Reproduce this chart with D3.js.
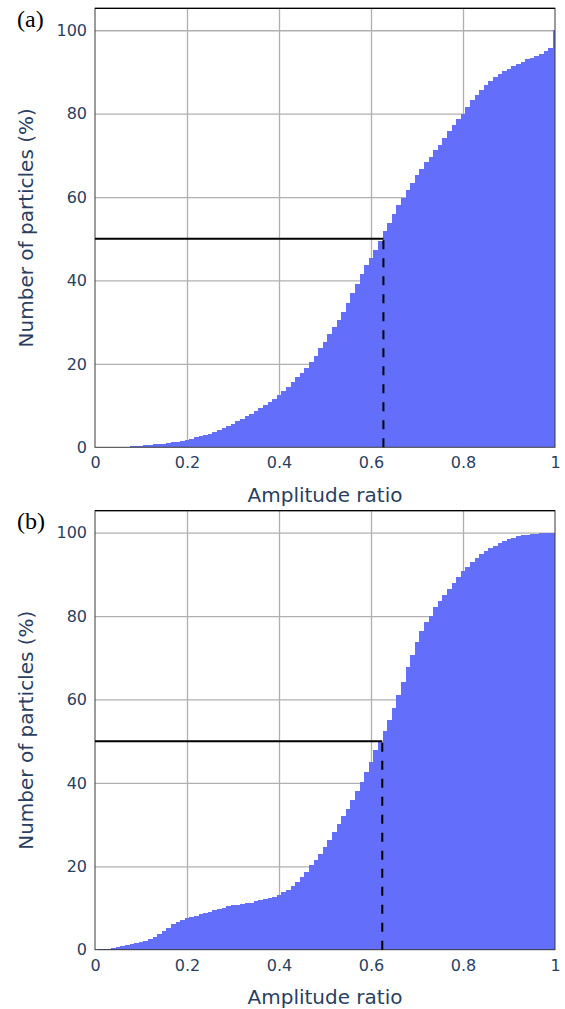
<!DOCTYPE html>
<html>
<head>
<meta charset="utf-8">
<script src="https://cdn.jsdelivr.net/npm/d3@7/dist/d3.min.js"></script>
<style>
  body { margin: 0; background: #fff; }
  svg { display: block; }
</style>
</head>
<body>
<div id="chart"></div>
<script>
// cumulative histograms, bins of width 0.01 centred on 0, 0.01, ... 1
var binWidth = 0.01;
var binCenters = d3.range(101).map(function (k) { return k / 100; });

var cumA = [
    0, 0, 0, 0.02, 0.03, 0.05, 0.08, 0.12, 0.25, 0.3,
    0.35, 0.5, 0.55, 0.75, 0.8, 0.85, 1.0, 1.3, 1.35, 1.5,
    1.75, 2.0, 2.4, 2.6, 2.9, 3.2, 3.7, 4.2, 4.6, 5.0,
    5.6, 6.3, 6.8, 7.4, 8.0, 8.7, 9.4, 10.2, 10.9, 11.7,
    12.6, 13.4, 14.5, 15.7, 16.9, 17.8, 19.0, 20.5, 21.9, 23.7,
    25.3, 27.1, 28.9, 30.6, 32.4, 34.5, 36.9, 39.1, 41.5, 43.6,
    45.4, 47.2, 49.5, 51.9, 53.8, 55.9, 58.0, 59.7, 61.6, 63.4,
    65.3, 66.7, 68.3, 69.6, 71.2, 72.4, 74.2, 75.8, 77.2, 78.7,
    80.0, 81.6, 83.2, 84.4, 85.6, 86.8, 87.8, 88.7, 89.4, 90.2,
    90.8, 91.4, 92.0, 92.4, 93.0, 93.4, 93.8, 94.2, 95.0, 95.8,
    100
];

var cumB = [
    0, 0.05, 0.15, 0.25, 0.35, 0.6, 0.9, 1.1, 1.4, 1.6,
    1.8, 2.1, 2.6, 3.0, 3.8, 4.4, 5.3, 6.1, 6.6, 7.2,
    7.7, 7.8, 8.2, 8.5, 8.8, 9.1, 9.5, 9.7, 10.1, 10.4,
    10.6, 10.8, 11.0, 11.1, 11.3, 11.6, 11.8, 12.1, 12.4, 12.7,
    13.2, 13.8, 14.4, 15.3, 16.3, 17.4, 18.7, 20.2, 21.6, 23.0,
    24.7, 26.4, 28.3, 30.1, 32.1, 33.7, 35.9, 38.1, 40.3, 42.5,
    45.0, 47.9, 49.7, 52.5, 55.0, 57.9, 61.0, 64.2, 67.8, 70.6,
    73.7, 76.4, 78.5, 80.1, 82.1, 83.7, 85.0, 86.5, 87.9, 89.3,
    90.7, 91.8, 92.9, 93.8, 94.9, 95.5, 96.2, 96.8, 97.4, 97.9,
    98.4, 98.8, 99.1, 99.4, 99.4, 99.6, 99.7, 99.8, 99.8, 99.9,
    100
];

// amplitude ratio where half of the particles are reached
var medianA = 0.627;
var medianB = 0.6245;
var halfLevel = 50;

var xTicks = [0, 0.2, 0.4, 0.6, 0.8, 1];
var yTicks = [0, 20, 40, 60, 80, 100];
var panelLabels = ["(a)", "(b)"];
var xTitle = "Amplitude ratio";
var yTitle = "Number of particles (%)";

var panels = [
    { label: panelLabels[0], values: cumA, median: medianA, top: 8.3 },
    { label: panelLabels[1], values: cumB, median: medianB, top: 510.7 }
];

var W = 565, H = 1009;
var left = 95, width = 460, height = 439;
var font = "'DejaVu Sans', Verdana, sans-serif";
var textColor = "#2a3f5f";
var barColor = "#636efa";

var svg = d3.select("#chart")
    .append("svg")
    .attr("width", W)
    .attr("height", H);

var x = d3.scaleLinear().domain([0, 1]).range([0, width]);
var y = d3.scaleLinear().domain([0, 105.26]).range([height, 0]);

panels.forEach(function (p) {
    var g = svg.append("g")
        .attr("transform", "translate(" + left + "," + p.top + ")");

    // grid
    g.append("g")
        .attr("class", "grid")
        .call(d3.axisBottom(x).tickValues(xTicks.slice(1, -1)).tickSize(height).tickFormat(""))
        .call(function (s) { s.select(".domain").remove(); })
        .selectAll("line")
        .attr("stroke", "#b0b0b0")
        .attr("stroke-width", 1.3);
    g.append("g")
        .attr("class", "grid")
        .call(d3.axisLeft(y).tickValues(yTicks.slice(1)).tickSize(-width).tickFormat(""))
        .call(function (s) { s.select(".domain").remove(); })
        .selectAll("line")
        .attr("stroke", "#b0b0b0")
        .attr("stroke-width", 1.3);

    // bars
    g.append("g")
        .attr("shape-rendering", "crispEdges")
        .selectAll("rect")
        .data(binCenters)
        .enter().append("rect")
        .attr("x", function (c) { return x(Math.max(0, c - binWidth / 2)); })
        .attr("width", function (c) {
            return x(Math.min(1, c + binWidth / 2)) - x(Math.max(0, c - binWidth / 2));
        })
        .attr("y", function (c, i) { return y(p.values[i]); })
        .attr("height", function (c, i) { return height - y(p.values[i]); })
        .attr("fill", barColor);

    // frame
    g.append("rect")
        .attr("x", 0).attr("y", 0)
        .attr("width", width).attr("height", height)
        .attr("fill", "none")
        .attr("stroke", "#3a3a3a")
        .attr("stroke-width", 1);
    g.append("line")
        .attr("x1", 0).attr("x2", width)
        .attr("y1", 0).attr("y2", 0)
        .attr("stroke", "#000")
        .attr("stroke-width", 1.2);

    // 50 % line and median marker
    g.append("line")
        .attr("x1", x(0)).attr("x2", x(p.median))
        .attr("y1", y(halfLevel)).attr("y2", y(halfLevel))
        .attr("stroke", "#000")
        .attr("stroke-width", 2);
    g.append("line")
        .attr("x1", x(p.median)).attr("x2", x(p.median))
        .attr("y1", y(0)).attr("y2", y(halfLevel))
        .attr("stroke", "#000")
        .attr("stroke-width", 2)
        .attr("stroke-dasharray", "9,9");

    // axes
    var ax = g.append("g")
        .attr("transform", "translate(0," + height + ")")
        .call(d3.axisBottom(x).tickValues(xTicks).tickSize(0).tickPadding(9.5).tickFormat(function (d) { return String(d); }));
    var ay = g.append("g")
        .call(d3.axisLeft(y).tickValues(yTicks).tickSize(0).tickPadding(8));
    [ax, ay].forEach(function (a) {
        a.select(".domain").remove();
        a.selectAll("text")
            .attr("fill", textColor)
            .style("font-family", font)
            .style("font-size", "16px");
    });

    // axis titles
    g.append("text")
        .attr("x", width / 2)
        .attr("y", height + 54.4)
        .attr("text-anchor", "middle")
        .attr("fill", textColor)
        .style("font-family", font)
        .style("font-size", "20px")
        .text(xTitle);
    g.append("text")
        .attr("transform", "translate(-62," + (height / 2) + ") rotate(-90)")
        .attr("text-anchor", "middle")
        .attr("fill", textColor)
        .style("font-family", font)
        .style("font-size", "20px")
        .text(yTitle);

    // panel label
    svg.append("text")
        .attr("x", 17)
        .attr("y", p.top + 18.5)
        .attr("fill", "#000")
        .style("font-family", "'Liberation Serif', 'Times New Roman', serif")
        .style("font-size", "24px")
        .text(p.label);
});
</script>
</body>
</html>
